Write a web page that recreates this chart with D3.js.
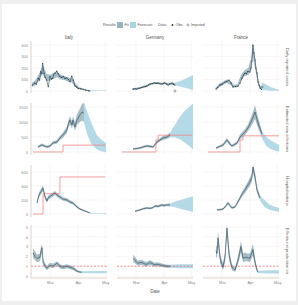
<!DOCTYPE html>
<html><head><meta charset="utf-8">
<script src="https://cdn.jsdelivr.net/npm/d3@7"></script>
<style>body{margin:0;background:#efefef;} svg{display:block;font-family:"Liberation Sans",Arial,sans-serif;}</style>
</head><body><svg id="c" width="298" height="305"></svg>
<script>
// ---------- labels ----------
const columns = ["Italy", "Germany", "France"];
const rowLabels = ["Daily reported cases", "Estimated new infections", "Hospitalisations", "Effective reproduction no."];
const xTickDays = [20, 51, 81];           // days since 10 Feb
const xTickLabels = ["Mar", "Apr", "May"];
const yTicks = [[0,100,200,300,400],[0,500,1000,1500],[0,200,400,600],[0,1,2,3,4,5]];
const yTickLabels = [["0","100","200","300","400"],["0","500","1000","1500"],["0","200","400","600"],["0","1","2","3","4","5"]];
const yDomains = [[-17,435],[-100,1633],[-43,700],[-0.2,5.2]];
const xDomain = [-1, 83];

// ---------- row 1: daily reported cases ----------
const casesObsL = [[0.4,52],[3,70],[5,60],[7.1,110],[8.5,95],[9.7,168],[11,150],[11.9,241],[13.4,154],[14.5,120],[16.3,96],[18.1,37],[20,124],[21.5,105],[23,110],[24,140],[25.5,154],[27.4,174],[29,150],[30.3,130],[32.9,119],[34.5,125],[36.6,110],[38.5,115],[40.2,102],[42.1,81],[44,130],[45.7,96],[47.6,43],[49.5,35],[51.3,23],[54,20],[56.8,15],[59.5,8],[62.3,3],[64,1]];
const casesObsM = [[16.7,17],[19,20],[21,17],[23,24],[24.4,26],[26,30],[27.7,35],[30,38],[32.1,43],[34,55],[35.5,61],[38,65],[41,70],[43,66],[44.3,70],[46.5,64],[48.7,61],[50.5,68],[52,70],[54,60],[55.4,52],[57.5,62],[59.8,70],[61.5,60],[63,52]];
const casesObsR = [[13.4,17],[15.5,30],[17.8,52],[20,60],[23.3,78],[25.5,85],[27.7,96],[30,70],[32.1,35],[35,40],[37.7,43],[40,70],[42.1,113],[43.8,140],[45.4,157],[47,150],[48.5,170],[50.9,165],[52,200],[53.1,261],[54.2,400],[55.3,330],[56.5,270],[57.5,200],[58.7,157],[59.8,78],[61,50],[62,26],[63.5,15]];
const casesImpM = [[63,0]];
const casesImpR = [[64.2,35]];
// bands [day, lo, hi]
const casesBandL = [[0,35,70],[4,50,95],[8,90,150],[12,150,230],[16,90,150],[20,90,140],[24,110,160],[28,120,170],[32,100,140],[36,95,130],[40,80,115],[44,75,115],[48,35,70],[52,15,35],[56,8,22],[60,3,12],[64,0,6]];
const casesFcL = [[64,0,6],[70,0,6],[76,0,5],[82,0,5]];
const casesBandM = [[16,10,25],[20,12,28],[24,18,33],[28,28,45],[32,35,55],[36,50,70],[40,58,78],[44,60,78],[48,55,72],[52,58,76],[56,50,68],[60,55,75],[63,50,72]];
const casesFcM = [[63,50,72],[68,40,85],[73,30,100],[78,20,120],[83,10,140]];
const casesBandR = [[13,10,30],[17,35,65],[21,50,80],[25,70,100],[29,55,90],[33,30,55],[37,35,60],[41,90,140],[45,130,180],[49,140,200],[52,180,280],[54,300,420],[56,220,320],[58,130,200],[60,60,110],[62,20,50],[64,8,35]];
const casesFcR = [[64,10,78],[69,6,55],[74,3,35],[79,2,20],[83,1,10]];

// ---------- row 2: estimated infections [day, mid, lo, hi] ----------
const infEstL = [[6.7,167,130,210],[11.2,233,190,280],[16.7,167,130,210],[20,200,160,250],[23.3,300,250,360],[27.7,333,280,400],[31,467,400,540],[34.4,567,480,650],[38.8,733,630,850],[39.9,900,780,1000],[42.1,1067,920,1200],[44.3,900,780,1020],[45.4,1067,920,1200],[47.6,833,700,980],[49.8,1067,900,1250],[53.1,1233,1000,1450],[55.4,1333,1050,1600],[57.5,1300,1000,1650]];
const infFcL = [[57.5,1300,1000,1650],[61,950,600,1350],[66,550,250,950],[72,300,80,550],[77,180,20,400],[82,100,0,300]];
const infEstM = [[16.7,100,70,130],[20,110,80,140],[24.4,133,100,165],[28,170,135,205],[32.1,200,160,240],[35,190,150,230],[38.8,167,130,205],[41,250,205,295],[43.2,333,280,385],[46.5,400,340,460],[49.8,467,400,535],[54.2,500,430,570],[57.6,567,490,645]];
const infFcM = [[57.6,567,490,645],[63,700,480,900],[68,850,430,1150],[73,1000,330,1350],[78,1150,220,1480],[83,1300,80,1620]];
const infEstR = [[13.4,133,100,170],[17,180,140,220],[21.1,233,190,280],[25.5,400,330,470],[28,300,240,360],[31,200,160,245],[36.6,300,245,355],[39.9,500,420,580],[45.4,667,570,770],[48.7,800,690,920],[53.1,1067,900,1230],[56.5,1333,1100,1560],[59.8,967,800,1150],[64.2,600,480,720]];
const infFcR = [[64.2,600,450,680],[69,330,200,500],[74,220,100,380],[79,150,40,300],[83,110,10,233]];
const infRedL = [[1.2,0],[34.4,230],[81,230]];
const infRedM = [[4.5,0],[42,400],[44.5,560],[82,560]];
const infRedR = [[4.5,0],[39.9,400],[43.2,540],[83,540]];

// ---------- row 3: hospitalisations ----------
const hospEstL = [[5.6,157,130,185],[7.8,271,235,305],[12.3,371,330,410],[14.5,243,210,275],[16.7,186,160,215],[17.8,229,200,260],[22.2,271,240,300],[25.5,300,270,330],[27.7,271,245,300],[31,243,215,270],[34.4,214,190,240],[38.8,200,175,225],[42.1,171,150,195],[45.4,157,135,180],[49.8,100,85,120],[53.1,71,58,85],[58.7,43,33,55],[64.2,14,8,22]];
const hospFcL = [[64.2,14,8,22],[70,8,3,15],[76,6,2,12],[82,5,1,10]];
const hospEstM = [[18.9,40,30,52],[21,45,34,57],[24.4,57,45,70],[28,75,62,90],[32.1,86,72,100],[35,80,66,95],[37.7,86,72,100],[41,114,97,130],[44.3,110,93,127],[48.7,129,110,148],[51,120,102,138],[54.2,129,110,148],[57.6,129,110,150]];
const hospFcM = [[57.6,129,110,150],[63,135,95,175],[68,140,80,195],[73,140,60,215],[78,140,45,235],[83,140,29,250]];
const hospEstR = [[14.5,57,45,70],[18,62,50,76],[21.1,71,58,85],[24,110,92,128],[26.6,157,135,180],[29,120,100,140],[31,86,70,102],[34.4,100,84,118],[37,160,138,182],[39.9,229,200,258],[42.5,290,255,325],[45.4,343,300,385],[48.7,414,365,465],[51,460,400,520],[53.1,529,470,590],[54.2,671,600,700],[55.3,600,530,660],[56.5,529,465,590],[58.7,343,300,390],[62,229,195,265]];
const hospFcR = [[62,229,195,265],[67,150,100,200],[72,100,65,140],[77,75,45,110],[83,55,29,86]];
const hospRedL = [[1.2,0],[12.3,290],[31,529],[81,529]];

// ---------- row 4: reproduction number ----------
const rEstL = [[1.2,2.35,1.9,2.8],[3.5,2.0,1.6,2.5],[5.6,1.8,1.4,2.2],[8.9,1.9,1.5,2.3],[10.2,2.6,2.1,3.0],[11.2,2.9,2.4,3.3],[12.3,1.4,1.1,1.8],[14.5,1.0,0.8,1.3],[16.7,0.8,0.6,1.05],[20,1.1,0.9,1.35],[23.3,1.0,0.8,1.25],[27.7,1.3,1.05,1.5],[31,1.0,0.8,1.2],[34.4,0.9,0.7,1.1],[38.8,1.0,0.8,1.2],[42.1,0.9,0.7,1.1],[45.4,0.8,0.62,1.0],[49.8,0.5,0.38,0.65],[53.1,0.4,0.3,0.52],[55,0.4,0.3,0.5]];
const rFcL = [[55,0.4,0.3,0.5],[65,0.4,0.28,0.52],[75,0.4,0.28,0.52],[83,0.4,0.28,0.52]];
const rEstM = [[17,1.8,1.4,2.2],[18.9,1.6,1.3,1.95],[22.2,1.3,1.05,1.55],[26.6,1.4,1.15,1.65],[29,1.25,1.0,1.5],[32.1,1.2,1.0,1.45],[35,1.35,1.1,1.6],[37.7,1.3,1.08,1.52],[40,1.15,0.95,1.35],[43.2,1.2,1.0,1.4],[46,1.15,0.95,1.35],[48.7,1.1,0.92,1.28],[51,1.05,0.88,1.22],[54.2,1.0,0.85,1.15],[58,1.0,0.85,1.15]];
const rFcM = [[58,1.0,0.85,1.15],[68,1.0,0.8,1.2],[83,1.0,0.8,1.2]];
const rEstR = [[13.4,2.6,2.0,3.2],[14.5,2.3,1.8,2.9],[15.6,3.9,3.1,4.6],[17.8,1.9,1.4,2.4],[19.5,1.3,0.9,1.7],[21.1,0.9,0.6,1.3],[23.3,1.9,1.4,2.4],[25.5,4.9,4.0,5.2],[27.7,2.3,1.7,2.9],[29.5,1.4,1.0,1.8],[31,0.9,0.6,1.2],[34.4,0.6,0.4,0.9],[37.7,1.6,1.2,2.0],[41,3.0,2.4,3.6],[43.2,1.8,1.4,2.3],[45.5,1.9,1.5,2.4],[47.6,1.9,1.5,2.3],[50.9,1.8,1.4,2.3],[54.2,2.7,2.1,3.3],[56.5,1.4,1.0,1.8],[58.7,0.6,0.4,0.85],[59.8,0.4,0.3,0.55]];
const rFcR = [[59.8,0.4,0.3,0.55],[70,0.4,0.25,0.6],[83,0.4,0.25,0.6]];
const rThreshold = 1;

// ---------- assemble ----------
const estGrid = [[casesBandL,casesBandM,casesBandR],[infEstL,infEstM,infEstR],[hospEstL,hospEstM,hospEstR],[rEstL,rEstM,rEstR]];
const fcGrid = [[casesFcL,casesFcM,casesFcR],[infFcL,infFcM,infFcR],[hospFcL,hospFcM,hospFcR],[rFcL,rFcM,rFcR]];
const obsGrid = [casesObsL,casesObsM,casesObsR];
const impGrid = [[],casesImpM,casesImpR];
const redGrid = {"1-0":infRedL,"1-1":infRedM,"1-2":infRedR,"2-0":hospRedL};

const C = {est:"#6b93a3", fc:"#acd5e4", line:"#2d4752", red:"#f08484", grid:"#eadfdc", axis:"#d9c8b9", text:"#8a8a8a"};
const svg = d3.select("#c");
svg.append("rect").attr("x",2).attr("y",4).attr("width",294).attr("height",297).attr("fill","#fff");

const colX=[31,117,203], rowY=[41,103,165,225], pw=76, ph=[52,52,52,53];

for (let r=0;r<4;r++){
  for (let c=0;c<3;c++){
    const g = svg.append("g").attr("transform",`translate(${colX[c]},${rowY[r]})`);
    const xs = d3.scaleLinear().domain(xDomain).range([0,pw]);
    const ys = d3.scaleLinear().domain(yDomains[r]).range([ph[r],0]);
    const id = `clip${r}${c}`;
    g.append("clipPath").attr("id",id).append("rect").attr("width",pw).attr("height",ph[r]);
    g.selectAll(".gy").data(yTicks[r]).join("line").attr("x1",0).attr("x2",pw)
      .attr("y1",d=>ys(d)).attr("y2",d=>ys(d)).attr("stroke",C.grid).attr("stroke-width",0.5).attr("stroke-dasharray","1.2,1");
    g.selectAll(".gx").data(xTickDays).join("line").attr("y1",0).attr("y2",ph[r])
      .attr("x1",d=>xs(d)).attr("x2",d=>xs(d)).attr("stroke",C.grid).attr("stroke-width",0.5).attr("stroke-dasharray","1.2,1");
    const p = g.append("g").attr("clip-path",`url(#${id})`);
    const lo = r===0 ? d=>d[1] : d=>d[2];
    const hi = r===0 ? d=>d[2] : d=>d[3];
    const area = d3.area().x(d=>xs(d[0])).y0(d=>ys(lo(d))).y1(d=>ys(hi(d)));
    p.append("path").attr("d",area(fcGrid[r][c])).attr("fill",C.fc).attr("opacity",0.9);
    p.append("path").attr("d",area(estGrid[r][c])).attr("fill",C.est).attr("opacity",0.6);
    if (r===3){
      p.append("line").attr("x1",0).attr("x2",pw).attr("y1",ys(rThreshold)).attr("y2",ys(rThreshold))
        .attr("stroke","#e86a6a").attr("stroke-width",0.7).attr("stroke-dasharray","2,1.5");
    }
    const red = redGrid[`${r}-${c}`];
    if (red){
      p.append("path").attr("d",d3.line().curve(d3.curveStepAfter).x(d=>xs(d[0])).y(d=>ys(d[1]))(red))
        .attr("fill","none").attr("stroke",C.red).attr("stroke-width",0.8);
    }
    if (r===0){
      const obs = obsGrid[c];
      p.append("path").attr("d",d3.line().x(d=>xs(d[0])).y(d=>ys(d[1]))(obs))
        .attr("fill","none").attr("stroke",C.line).attr("stroke-width",0.6);
      p.selectAll(".pt").data(obs).join("circle").attr("cx",d=>xs(d[0])).attr("cy",d=>ys(d[1])).attr("r",0.55).attr("fill","#1e2c33");
      p.selectAll(".imp").data(impGrid[c]).join("circle").attr("cx",d=>xs(d[0])).attr("cy",d=>ys(d[1])).attr("r",1)
        .attr("fill","none").attr("stroke","#333").attr("stroke-width",0.4);
    } else {
      p.append("path").attr("d",d3.line().x(d=>xs(d[0])).y(d=>ys(d[1]))(estGrid[r][c]))
        .attr("fill","none").attr("stroke",C.line).attr("stroke-width",0.6);
    }
    if (c===0){
      g.append("line").attr("x1",0).attr("x2",0).attr("y1",0).attr("y2",ph[r]).attr("stroke",C.axis).attr("stroke-width",0.8);
      const ax = g.append("g").call(d3.axisLeft(ys).tickValues(yTicks[r]).tickSize(0).tickPadding(3)
        .tickFormat((d,i)=>yTickLabels[r][i]));
      ax.select(".domain").remove();
      ax.selectAll("text").attr("font-size",4).attr("fill",C.text).attr("font-family","Liberation Sans, Arial, sans-serif");
    }
    if (r===3){
      g.append("line").attr("x1",0).attr("x2",pw).attr("y1",ph[r]).attr("y2",ph[r]).attr("stroke",C.axis).attr("stroke-width",0.8);
      const ax = g.append("g").attr("transform",`translate(0,${ph[r]})`)
        .call(d3.axisBottom(xs).tickValues(xTickDays).tickSize(0).tickPadding(3).tickFormat((d,i)=>xTickLabels[i]));
      ax.select(".domain").remove();
      ax.selectAll("text").attr("font-size",4).attr("fill",C.text).attr("font-family","Liberation Sans, Arial, sans-serif");
    }
    if (r===0){
      svg.append("text").attr("x",colX[c]+pw/2).attr("y",39).attr("text-anchor","middle")
        .attr("font-size",4.5).attr("fill","#555").text(columns[c]);
    }
  }
  svg.append("text").attr("transform",`translate(286,${rowY[r]+ph[r]/2}) rotate(90)`).attr("text-anchor","middle")
    .attr("font-size",4.2).attr("fill","#666").text(rowLabels[r]);
}
svg.append("text").attr("x",155).attr("y",293).attr("text-anchor","middle").attr("font-size",4.5).attr("fill","#555").text("Date");

// legend
const lg = svg.append("g").attr("font-size",3.8).attr("fill","#555");
lg.append("text").attr("x",103).attr("y",26.3).text("Results");
lg.append("rect").attr("x",117).attr("y",22).attr("width",6).attr("height",6).attr("fill",C.est).attr("opacity",0.7);
lg.append("text").attr("x",124.5).attr("y",26.3).text("Fit");
lg.append("rect").attr("x",130).attr("y",22).attr("width",6).attr("height",6).attr("fill",C.fc);
lg.append("text").attr("x",137.5).attr("y",26.3).text("Forecast");
lg.append("text").attr("x",158).attr("y",26.3).text("Data");
lg.append("circle").attr("cx",172.5).attr("cy",25).attr("r",0.9).attr("fill","#333");
lg.append("text").attr("x",175.5).attr("y",26.3).text("Obs.");
lg.append("circle").attr("cx",188).attr("cy",25).attr("r",1).attr("fill","none").attr("stroke","#333").attr("stroke-width",0.4);
lg.append("text").attr("x",191).attr("y",26.3).text("Imputed");
</script></body></html>
